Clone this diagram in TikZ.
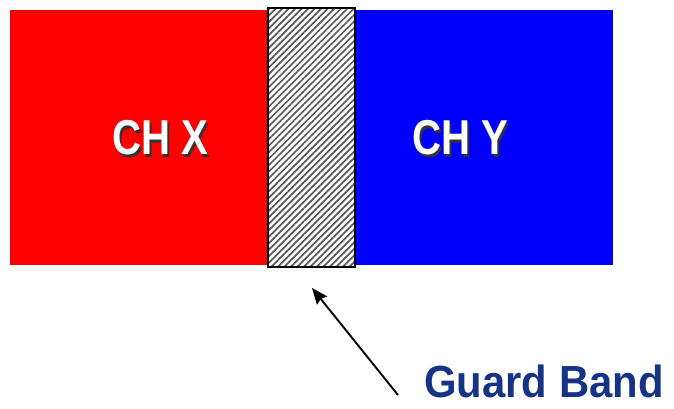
\documentclass[tikz,border=0pt]{standalone}
\usepackage{fontspec}
\setmainfont{Liberation Sans}
\usetikzlibrary{patterns.meta}
\usetikzlibrary{arrows.meta}
\usetikzlibrary{positioning}
\definecolor{bandblue}{RGB}{22,52,134}
\newcommand{\shadowed}[1]{\makebox[0pt][l]{\hspace{2.5pt}\raisebox{-2.5pt}{\textcolor{black!80}{#1}}}#1}
\tikzset{chtext/.style = {font=\bfseries\fontsize{49}{49}\selectfont, xscale=0.82, inner sep=0, white}}
\tikzset{->/.style = {-{Stealth[length=16pt,width=13pt,inset=2pt]}, line width=1.9pt}}

\begin{document}
\begin{tikzpicture}[x=1pt,y=-1pt]
        \useasboundingbox (0,0) rectangle (674,408);
        \fill [red] (10,10) rectangle (268,265);
        \fill [blue] (355,10) rectangle (613,265);
        \fill [white] (268,8) rectangle (355,267);
        \fill [pattern={Lines[angle=45, distance=4.6pt, line width=1.7pt]}, pattern color=black!65] (268,8) rectangle (355,267);
        \draw [line width=1.4pt] (268,8) rectangle (355,267);
        % channel labels with a drop shadow
        \node (chx) [chtext] at (160,139) {\shadowed{CH X}};
        \node (chy) [chtext] at (460,139) {\shadowed{CH Y}};
        \node (guard) [font=\bfseries\fontsize{45}{45}\selectfont, bandblue, xscale=0.93, inner sep=0, text depth=0pt, anchor=base west] at (424,397) {Guard Band};
        \coordinate (tail) at (398,395);
        \coordinate (tip) at (312,288);
        \draw [->] (tail) -- (tip);
    \end{tikzpicture}
\end{document}
